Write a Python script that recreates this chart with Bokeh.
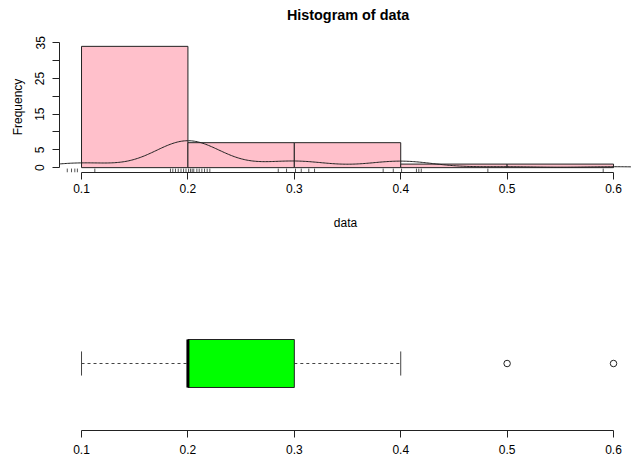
import numpy as np
from bokeh.plotting import figure
from bokeh.models import Range1d, FixedTicker, Label
from bokeh.layouts import column
from bokeh.embed import file_html
from bokeh.resources import INLINE

# ---------------- data ----------------
data_values = [0.1, 0.2, 0.3, 0.4, 0.5, 0.6]
data_counts = [5, 29, 7, 7, 1, 1]

hist_breaks = [0.1, 0.2, 0.3, 0.4, 0.5, 0.6]
hist_counts = [34, 7, 7, 1, 1]

# jittered rug positions
rug_values = [0.0866, 0.0906, 0.0937, 0.0961, 0.1125,
              0.1836, 0.1858, 0.1883, 0.1909, 0.1935, 0.1959, 0.1982, 0.2006,
              0.2024, 0.2040, 0.2055, 0.2084, 0.2106, 0.2131, 0.2156, 0.2181, 0.2206,
              0.2849, 0.2927, 0.3011, 0.3065, 0.3136, 0.3190,
              0.3835, 0.3930, 0.4008, 0.4148, 0.4170, 0.4193,
              0.4819, 0.5903]

box_whisker_low = 0.1
box_q1 = 0.2
box_median = 0.2
box_q3 = 0.3
box_whisker_high = 0.4
box_outliers = [0.5, 0.6]

x_ticks = [0.1, 0.2, 0.3, 0.4, 0.5, 0.6]
y_ticks = [0, 5, 10, 15, 20, 25, 30, 35]
y_tick_labels = {0: "0", 5: "5", 10: "", 15: "15", 20: "", 25: "25", 30: "", 35: "35"}

title_text = "Histogram of data"

# ---------------- density (Gaussian KDE, bw.nrd0) ----------------
data = np.repeat(np.array(data_values), np.array(data_counts))
n = len(data)
sd = np.std(data, ddof=1)
iqr = np.percentile(data, 75) - np.percentile(data, 25)
bw = 0.9 * min(sd, iqr / 1.34) * n ** (-0.2)
grid = np.linspace(data.min() - 3 * bw, data.max() + 3 * bw, 512)
dens = np.exp(-0.5 * ((grid[:, None] - data[None, :]) / bw) ** 2).sum(axis=1) / (n * bw * np.sqrt(2 * np.pi))

FONT = "Liberation Sans"
LINE = "#222222"

X0, X1 = 0.0793, 0.6169
Y0, Y1 = -1.36, 35.36


def style_axis(ax):
    ax.axis_line_color = LINE
    ax.major_tick_line_color = LINE
    ax.major_tick_out = 7
    ax.major_tick_in = 0
    ax.minor_tick_line_color = None
    ax.major_label_text_font = FONT
    ax.major_label_text_font_size = "12px"
    ax.major_label_text_color = "black"
    ax.axis_label_text_font = FONT
    ax.axis_label_text_font_size = "12px"
    ax.axis_label_text_font_style = "normal"
    ax.axis_label_text_color = "black"


def bare(fig):
    fig.outline_line_color = None
    fig.grid.grid_line_color = None
    fig.background_fill_color = "white"
    fig.border_fill_color = "white"


# ---------------- title strip ----------------
TITLE_H = 33
pt = figure(width=631, height=TITLE_H, output_backend="svg", toolbar_location=None,
            x_range=Range1d(X0, X1), y_range=Range1d(0, TITLE_H),
            min_border_left=59, min_border_right=0, min_border_top=0, min_border_bottom=0)
bare(pt)
pt.axis.visible = False
pt.add_layout(Label(x=0.3505, y=TITLE_H - 14, text=title_text,
                    text_align="center", text_baseline="middle",
                    text_font=FONT, text_font_size="14.4px", text_font_style="bold",
                    text_color="black"))

# ---------------- histogram ----------------
p1 = figure(width=631, height=214, output_backend="svg", toolbar_location=None,
            x_range=Range1d(X0, X1), y_range=Range1d(Y0, Y1),
            min_border_left=59, min_border_right=0, min_border_top=8, min_border_bottom=75)
bare(p1)

p1.quad(left=hist_breaks[:-1], right=hist_breaks[1:], bottom=0, top=hist_counts,
        fill_color="#FFC0CB", line_color=LINE, line_width=1)
p1.line(grid, dens, line_color=LINE, line_width=1)
rug_len = 0.03 * (Y1 - Y0)
p1.segment(x0=rug_values, y0=Y0, x1=rug_values, y1=Y0 + rug_len, line_color="#555555", line_width=1)

xa = p1.xaxis[0]
style_axis(xa)
xa.ticker = FixedTicker(ticks=x_ticks)
xa.bounds = (x_ticks[0], x_ticks[-1])
xa.major_label_standoff = 4
xa.axis_label = "data"
xa.axis_label_standoff = 20

ya = p1.yaxis[0]
style_axis(ya)
ya.ticker = FixedTicker(ticks=y_ticks)
ya.bounds = (y_ticks[0], y_ticks[-1])
ya.major_label_overrides = y_tick_labels
ya.major_label_orientation = "vertical"
ya.major_label_standoff = 8
ya.axis_label = "Frequency"
ya.axis_label_standoff = 8

# ---------------- boxplot ----------------
p2 = figure(width=631, height=209, output_backend="svg", toolbar_location=None,
            x_range=Range1d(X0, X1), y_range=Range1d(0, 2),
            min_border_left=59, min_border_right=0, min_border_top=49, min_border_bottom=26)
bare(p2)
p2.yaxis.visible = False

yc = 1.0
half_box = 0.358
half_cap = 0.18
p2.segment(x0=[box_whisker_low, box_q3], y0=[yc, yc], x1=[box_q1, box_whisker_high], y1=[yc, yc],
           line_color="#444444", line_width=1, line_dash="3 3")
p2.segment(x0=[box_whisker_low, box_whisker_high], y0=[yc - half_cap] * 2,
           x1=[box_whisker_low, box_whisker_high], y1=[yc + half_cap] * 2,
           line_color="#444444", line_width=1)
p2.quad(left=[box_q1], right=[box_q3], bottom=[yc - half_box], top=[yc + half_box],
        fill_color="#00FF00", line_color=LINE, line_width=1)
p2.segment(x0=[box_median], y0=[yc - half_box], x1=[box_median], y1=[yc + half_box],
           line_color="black", line_width=3)
p2.scatter(x=box_outliers, y=[yc] * len(box_outliers), marker="circle", size=6.5,
           fill_color=None, line_color=LINE, line_width=1)

xb = p2.xaxis[0]
style_axis(xb)
xb.ticker = FixedTicker(ticks=x_ticks)
xb.bounds = (x_ticks[0], x_ticks[-1])
xb.major_label_standoff = 7
xb.major_label_text_line_height = 1.0

layout = column(pt, p1, p2)
open("out.html", "w").write(file_html(layout, INLINE))
